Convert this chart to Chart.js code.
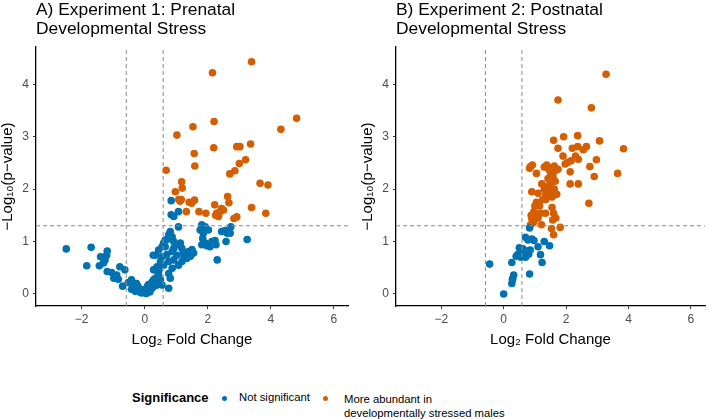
<!DOCTYPE html>
<html>
<head>
<meta charset="utf-8">
<script src="https://cdn.jsdelivr.net/npm/chart.js@4.4.1/dist/chart.umd.min.js"></script>
<style>
  body { margin: 0; background: #fff; font-family: "Liberation Sans", Arial, sans-serif; }
  #wrap { position: relative; width: 709px; height: 419px; overflow: hidden; }
  #wrap canvas { position: absolute; top: 0; }
  .leg { position: absolute; color: #000; white-space: nowrap; line-height: 1; }
  .dot { position: absolute; width: 5px; height: 5px; border-radius: 50%; }
</style>
</head>
<body>
<div id="wrap">
  <canvas id="panelA" width="355" height="350" style="left:0;width:355px;height:350px"></canvas>
  <canvas id="panelB" width="349" height="350" style="left:360px;width:349px;height:350px"></canvas>

  <div class="leg" style="left:132px;top:391px;font-size:13px;font-weight:bold">Significance</div>
  <div class="dot" style="left:222px;top:396px;background:#0072B2"></div>
  <div class="leg" style="left:239px;top:392px;font-size:11.3px">Not significant</div>
  <div class="dot" style="left:323px;top:396px;background:#D55E00"></div>
  <div class="leg" style="left:344px;top:392px;font-size:11.3px;line-height:14px">More abundant in<br>developmentally stressed males</div>
</div>

<script>
// volcano plots - log2 fold change vs -log10(p), two experiments

const titleA = ['A) Experiment 1: Prenatal', 'Developmental Stress'];
const titleB = ['B) Experiment 2: Postnatal', 'Developmental Stress'];

const xTicks = [-2, 0, 2, 4, 6];
const yTicks = [0, 1, 2, 3, 4];

// thresholds: log2(1.5) and -log10(0.05)
const foldCut = [-0.585, 0.585];
const pCut = 1.301;

// experiment 1 (prenatal) - [log2FC, -log10 p]
const prenatalNotSig = [
  [-2.49,0.86],[-1.70,0.89],[-1.84,0.54],[-1.40,0.71],[-1.19,0.82],[-1.21,0.74],[-1.26,0.65],[-1.31,0.59],
  [-1.44,0.54],[-1.19,0.43],[-1.05,0.41],[-0.98,0.30],[-0.84,0.28],[-0.89,0.36],[-0.79,0.52],[-0.63,0.46],
  [-0.70,0.15],[-0.42,0.27],[-0.37,0.17],[-0.32,0.11],[-0.42,0.09],[-0.21,0.14],[-0.16,0.04],[-0.05,0.08],
  [0.05,0.01],[-0.26,0.20],[0.16,0.04],[0.26,0.13],[0.28,0.27],[0.27,0.74],[0.32,0.46],[-0.52,0.22],
  [-0.10,0.02],[0.00,0.03],[0.10,0.06],[0.20,0.09],[-0.30,0.05],[0.12,0.18],
  [0.84,1.78],[0.84,1.51],[0.92,1.48],[1.07,1.57],[1.07,1.28],
  [1.81,1.32],[1.92,1.28],[1.76,1.22],[2.02,1.22],[1.86,1.16],[1.84,1.06],[1.92,0.97],[1.81,0.94],
  [1.97,0.92],[2.13,1.00],[2.23,1.02],[2.07,0.90],[2.26,0.94],[2.44,1.19],[2.55,1.21],[2.62,1.16],
  [2.73,1.28],[2.71,1.16],[2.58,1.00],[3.25,1.04],[2.30,0.65],
  [0.81,1.19],[0.76,1.13],[0.87,1.09],[0.71,1.04],[0.60,0.97],[0.65,0.90],[0.92,1.00],[1.02,0.94],
  [1.13,0.97],[1.18,0.87],[0.92,0.87],[0.87,0.81],[1.02,0.74],[1.23,0.78],[1.39,0.81],[1.50,0.85],
  [1.55,0.78],[1.34,0.68],[1.18,0.62],[1.07,0.55],[0.92,0.65],[0.76,0.62],[0.87,0.49],[0.76,0.39],
  [0.81,0.30],[0.76,0.11],[0.50,0.62],[0.34,0.74],[0.44,0.84],[0.55,0.90],[0.65,1.03],[0.55,0.71],
  [0.39,0.52],[0.28,0.46],[0.44,0.36],[0.34,0.30],[0.50,0.27],[0.23,0.23],[0.08,0.14],[-0.03,0.08],
  [0.18,0.11],[0.39,0.17],[0.55,0.17],[0.45,0.45],[0.60,0.55],[0.70,0.75],[1.25,0.70],[1.45,0.72]
];
const prenatalUp = [
  [3.39,4.43],[2.15,4.22],[2.20,3.29],[1.53,3.19],[1.02,3.03],[4.82,3.35],[4.32,3.14],[3.36,2.86],
  [2.19,2.79],[2.92,2.81],[3.02,2.81],[1.57,2.68],[3.20,2.56],[3.00,2.49],[1.59,2.44],[2.86,2.35],
  [2.70,2.29],[0.68,2.36],[3.66,2.11],[3.91,2.08],[1.17,2.14],[1.19,2.02],[0.97,1.95],[1.08,1.80],
  [1.16,1.80],[1.12,1.77],[1.41,1.75],[1.49,1.73],[1.58,1.79],[1.32,1.57],[1.72,1.57],[1.94,1.54],
  [2.22,1.70],[2.63,1.86],[2.67,1.74],[2.28,1.54],[2.34,1.48],[2.39,1.57],[2.44,1.63],[2.50,1.60],
  [2.25,1.50],[2.83,1.44],[2.92,1.47],[3.39,1.65],[3.84,1.54]
];

// experiment 2 (postnatal)
const postnatalNotSig = [
  [-0.45,0.57],[0.00,0.00],[0.26,0.20],[0.29,0.30],[0.32,0.36],[0.28,0.27],[0.26,0.60],[0.83,0.38],
  [0.45,0.75],[0.50,0.88],[0.55,0.80],[0.60,0.72],[0.65,0.78],[0.70,0.70],[0.75,0.82],[0.80,0.76],
  [0.85,0.84],[0.62,0.86],[0.72,0.75],[0.70,1.08],[0.78,1.03],[0.90,1.05],[0.97,1.02],[0.83,1.26],
  [1.10,0.90],[1.18,0.75],[1.23,0.60],[1.30,1.00],[1.47,0.92],[0.40,0.72],[0.55,0.70]
];
const postnatalUp = [
  [3.28,4.19],[1.74,3.70],[2.81,3.55],[1.60,2.93],[1.92,3.00],[2.37,3.02],[3.07,2.92],[1.74,2.78],
  [2.20,2.78],[2.37,2.81],[2.65,2.81],[2.55,2.75],[3.84,2.77],[1.90,2.63],[2.30,2.63],[2.39,2.57],
  [2.97,2.56],[1.97,2.48],[2.05,2.51],[2.16,2.54],[2.76,2.43],[2.13,2.33],[2.90,2.24],[3.65,2.30],
  [2.13,2.10],[2.39,2.10],[2.73,1.73],[0.83,2.40],[0.92,2.46],[0.86,2.43],[1.05,2.30],[1.30,2.42],
  [1.38,2.46],[1.45,2.38],[1.55,2.40],[1.62,2.44],[1.68,2.36],[1.50,2.32],[1.58,2.25],[1.42,2.20],
  [1.65,2.15],[1.50,2.10],[1.74,2.38],[0.90,1.95],[1.10,1.92],[1.22,2.10],[1.30,2.00],[1.35,1.90],
  [1.40,2.05],[1.45,1.95],[1.50,1.88],[1.55,1.85],[1.62,2.00],[1.70,1.90],[1.35,1.80],[1.25,1.80],
  [1.05,1.75],[1.15,1.68],[1.00,1.68],[0.97,1.57],[1.02,1.51],[0.90,1.44],[0.94,1.41],[0.97,1.38],
  [0.92,1.35],[0.86,1.32],[1.00,1.48],[1.18,1.54],[1.34,1.54],[1.57,1.41],[1.60,1.54],[1.67,1.45],
  [1.53,1.25],[1.60,1.13],[1.81,1.27],[1.21,1.32],[0.88,1.50],[1.55,1.65],[1.10,1.45]
];

const X_MIN = -3.45, X_MAX = 6.45;
const Y_MIN = -0.229, Y_MAX = 4.71;

Chart.defaults.font.family = '"Liberation Sans", Arial, sans-serif';
Chart.defaults.color = '#4d4d4d';

const toPts = arr => arr.map(p => ({ x: p[0], y: p[1] }));

function cutLines() {
  const dash = { type: 'line', borderColor: '#8a8a8a', borderWidth: 1, borderDash: [4, 3],
    pointRadius: 0, fill: false, order: 0 };
  const out = foldCut.map(v => Object.assign({}, dash, { data: [{ x: v, y: Y_MIN }, { x: v, y: Y_MAX }] }));
  out.push(Object.assign({}, dash, { data: [{ x: X_MIN, y: pCut }, { x: X_MAX, y: pCut }] }));
  return out;
}

function makeVolcano(id, title, notSig, up, padRight) {
  new Chart(document.getElementById(id), {
    type: 'scatter',
    data: {
      datasets: [
        ...cutLines(),
        { data: toPts(notSig), backgroundColor: '#0072B2', borderWidth: 0, pointRadius: 3.8, order: 1 },
        { data: toPts(up), backgroundColor: '#D55E00', borderWidth: 0, pointRadius: 3.8, order: 1 }
      ]
    },
    options: {
      responsive: false,
      animation: false,
      layout: { padding: { left: 0, right: padRight, top: 0, bottom: 0 } },
      plugins: {
        legend: { display: false },
        tooltip: { enabled: false },
        title: {
          display: true, text: title, align: 'start', fullSize: false,
          color: '#000', font: { size: 17.4, weight: 'normal', lineHeight: 1.07 },
          padding: { top: 1, bottom: 8.8 }
        }
      },
      scales: {
        x: {
          type: 'linear', min: X_MIN, max: X_MAX,
          afterBuildTicks: ax => { ax.ticks = xTicks.map(v => ({ value: v })); },
          afterFit: ax => { ax.height = 44; },
          ticks: { font: { size: 12 }, color: '#4d4d4d', padding: 3, callback: v => String(v).replace('-', '\u2212') },
          grid: { display: true, drawOnChartArea: false, drawTicks: true, tickLength: 3, color: '#333' },
          border: { display: true, color: '#000', width: 1.3 },
          title: { display: true, text: 'Log\u2082 Fold Change', color: '#000', font: { size: 15 }, padding: { top: 0, bottom: 1 } }
        },
        y: {
          type: 'linear', min: Y_MIN, max: Y_MAX,
          afterBuildTicks: ax => { ax.ticks = yTicks.map(v => ({ value: v })); },
          afterFit: ax => { ax.width = 36; },
          ticks: { font: { size: 12 }, color: '#4d4d4d', padding: 4 },
          grid: { display: true, drawOnChartArea: false, drawTicks: true, tickLength: 3, color: '#333' },
          border: { display: true, color: '#000', width: 1.3 },
          title: { display: true, text: '\u2212Log\u2081\u2080(p\u2212value)', color: '#000', font: { size: 15, lineHeight: 1 }, padding: 0 }
        }
      }
    }
  });
}

makeVolcano('panelA', titleA, prenatalNotSig, prenatalUp, 7);
makeVolcano('panelB', titleB, postnatalNotSig, postnatalUp, 1);
</script>
</body>
</html>
